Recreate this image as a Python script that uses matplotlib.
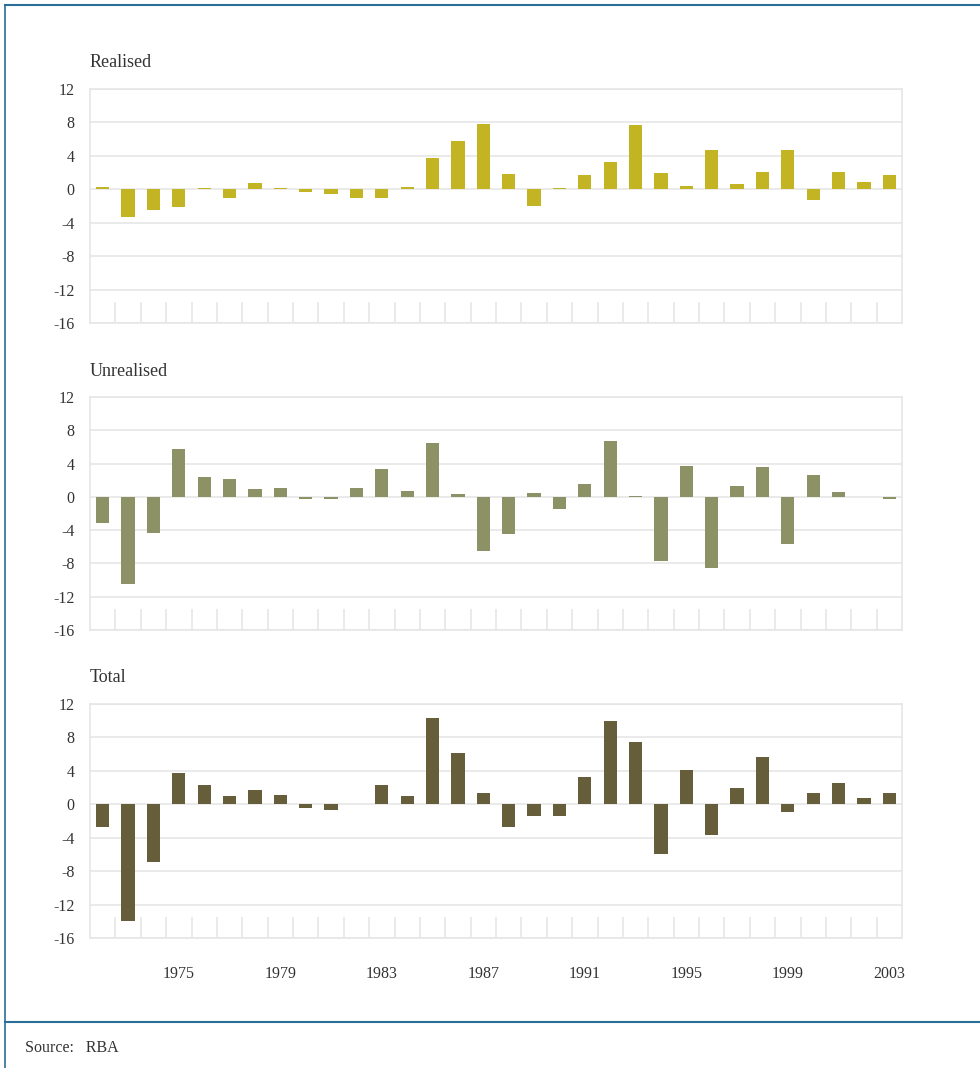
import matplotlib
matplotlib.use("Agg")
import matplotlib.pyplot as plt
from matplotlib.lines import Line2D
import numpy as np

# Données (1972-2003)
years = list(range(1972, 2004))
realised = [0.25, -3.3, -2.5, -2.1, 0.1, -1.0, 0.7, 0.1, -0.3, -0.55, -1.0, -1.0, 0.25, 3.7, 5.75, 7.8,
            1.8, -2.0, 0.1, 1.7, 3.25, 7.7, 1.9, 0.35, 4.7, 0.6, 2.05, 4.7, -1.3, 2.05, 0.85, 1.7]
unrealised = [-3.1, -10.5, -4.4, 5.75, 2.4, 2.15, 0.95, 1.1, -0.3, -0.2, 1.1, 3.35, 0.7, 6.5, 0.35, -6.55,
              -4.5, 0.5, -1.5, 1.55, 6.7, 0.05, -7.75, 3.7, -8.5, 1.3, 3.6, -5.7, 2.6, 0.6, 0.0, -0.3]
total = [-2.75, -14.0, -6.85, 3.8, 2.35, 1.05, 1.65, 1.15, -0.5, -0.7, 0.05, 2.35, 1.05, 10.3, 6.1, 1.3,
         -2.75, -1.45, -1.45, 3.3, 10.0, 7.5, -5.9, 4.15, -3.7, 2.0, 5.7, -0.95, 1.4, 2.6, 0.8, 1.4]
titles = ["Realised", "Unrealised", "Total"]
colors = ["#c2b423", "#8c9265", "#665e3b"]
yticks = [12, 8, 4, 0, -4, -8, -12, -16]
year_labels = [1975, 1979, 1983, 1987, 1991, 1995, 1999, 2003]

plt.rcParams["font.family"] = ["Liberation Serif", "DejaVu Serif"]
grid_col = "#e6e6e6"
frame_col = "#2a6f97"
text_col = "#333333"

W, H = 980, 1068
fig = plt.figure(figsize=(W / 100, H / 100), dpi=100)

# cadre bleu
fig.add_artist(Line2D([5 / W, 5 / W], [0, 1 - 5 / H], color=frame_col, lw=1.2))
fig.add_artist(Line2D([5 / W, 1], [1 - 5 / H, 1 - 5 / H], color=frame_col, lw=1.5))
fig.add_artist(Line2D([5 / W, 1], [1 - 1022 / H, 1 - 1022 / H], color=frame_col, lw=1.5))

x = np.arange(len(years))
panels = [(89, 323), (397, 630), (704, 938)]
series = [realised, unrealised, total]

for k, (top, bottom) in enumerate(panels):
    left, right = 90, 902
    ax = fig.add_axes([left / W, 1 - bottom / H, (right - left) / W, (bottom - top) / H])
    ax.bar(x, series[k], width=0.52, color=colors[k], zorder=3)
    ax.set_xlim(-0.5, len(years) - 0.5)
    ax.set_ylim(-16, 12)
    ax.set_yticks(yticks)
    ax.set_yticklabels([str(t) for t in yticks], fontsize=11.5, color=text_col)
    ax.yaxis.grid(True, color=grid_col, lw=1.2, zorder=0)
    ax.tick_params(axis="y", length=0, pad=11)
    for s in ax.spines.values():
        s.set_color(grid_col)
        s.set_linewidth(1.2)
    # petits traits entre les barres
    ax.set_xticks(np.arange(0.5, len(years) - 1, 1.0), minor=True)
    ax.tick_params(axis="x", which="minor", direction="in", length=15, color=grid_col, width=1.2)
    if k == 2:
        ax.set_xticks([years.index(y) for y in year_labels])
        ax.set_xticklabels([str(y) for y in year_labels], fontsize=11.5, color=text_col)
        ax.tick_params(axis="x", which="major", length=0, pad=20)
    else:
        ax.set_xticks([])
    ax.text(0, 1.075, titles[k], transform=ax.transAxes, fontsize=13,
            color=text_col, ha="left", va="bottom")

fig.text(25 / W, 1 - 1048 / H, "Source:   RBA", fontsize=11.5, color=text_col, va="center")

plt.savefig("out.png", dpi=100)
